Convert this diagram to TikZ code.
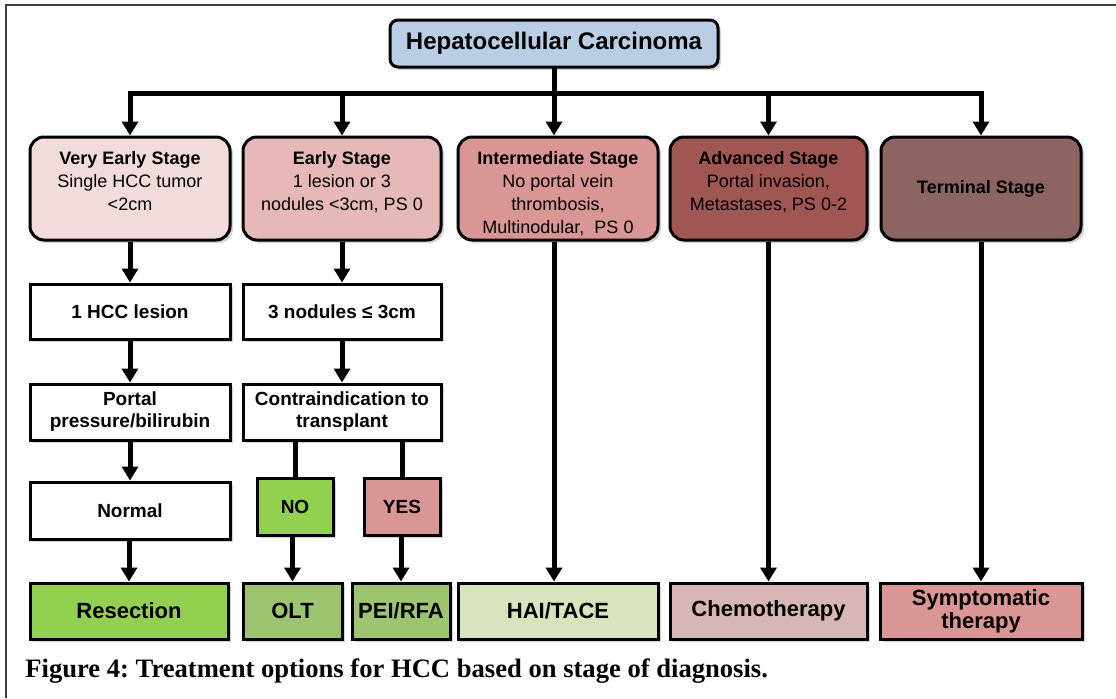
\documentclass[tikz,border=0pt]{standalone}
\usepackage{fontspec}
\setmainfont{Liberation Sans}
\newfontfamily\capfont{Liberation Serif}
\usetikzlibrary{arrows.meta}
\usetikzlibrary{shadows}
\definecolor{hccblue}{HTML}{B9CDE5}
\definecolor{stageA}{HTML}{F2DCDB}
\definecolor{stageB}{HTML}{E6B9B8}
\definecolor{stageC}{HTML}{D99694}
\definecolor{stageD}{HTML}{A05653}
\definecolor{stageE}{HTML}{8C6461}
\definecolor{okgreen}{HTML}{92D050}
\definecolor{midgreen}{HTML}{9DC56F}
\definecolor{palegreen}{HTML}{D7E4BD}
\definecolor{palerose}{HTML}{D8B6B5}
\frenchspacing

\begin{document}
\begin{tikzpicture}[x=0.5pt, y=-0.5pt]
            \tikzstyle{box shadow} = [drop shadow={shadow xshift=1.5pt, shadow yshift=-1.5pt, opacity=0.35}]
            \tikzstyle{stage box} = [draw, line width=1.5pt, rounded corners=7pt, inner sep=0pt, box shadow]
            \tikzstyle{step box} = [draw, line width=1.5pt, fill=white, inner sep=0pt, align=center, box shadow,
                font=\bfseries\fontsize{9.5}{11}\selectfont]
            \tikzstyle{therapy box} = [draw, line width=1.5pt, inner sep=0pt, align=center, box shadow,
                minimum height=28pt, font=\bfseries\fontsize{11}{11.5}\selectfont]
            \tikzstyle{stage text} = [anchor=north, inner sep=0pt, align=center, font=\fontsize{9}{11.5}\selectfont]
            \tikzstyle{flow line} = [line width=2.5pt, line cap=rect]
            \tikzstyle{flow arrow} = [line width=2.5pt, -{Triangle[width=8pt,length=7pt]}]
            \useasboundingbox (0,0) rectangle (1116,698);
            \draw[line width=1pt, black!75] (1116,5) -- (6,5) -- (6,698);
            \node[stage box, rounded corners=4pt, fill=hccblue, minimum width=164pt, minimum height=23.5pt,
                font=\bfseries\fontsize{12}{14}\selectfont] (hcc) at (554,43.5) {Hepatocellular Carcinoma};
            \node[stage box, fill=stageA, minimum width=100pt, minimum height=51.5pt] (very) at (130,188.5) {};
            \node[stage box, fill=stageB, minimum width=99pt, minimum height=51.5pt] (early) at (342,188.5) {};
            \node[stage box, fill=stageC, minimum width=100pt, minimum height=51.5pt] (inter) at (558,188.5) {};
            \node[stage box, fill=stageD, minimum width=98.5pt, minimum height=51.5pt] (adv) at (768.5,188.5) {};
            \node[stage box, fill=stageE, minimum width=100pt, minimum height=51.5pt] (term) at (981,188.5) {};
            \node[stage text] (very-t) at (130,151) {\textbf{Very Early Stage}\\Single HCC tumor\\<2cm};
            \node[stage text] (early-t) at (342,151) {\textbf{Early Stage}\\1 lesion or 3\\nodules <3cm, PS 0};
            \node[stage text] (inter-t) at (558,151) {\textbf{Intermediate Stage}\\No portal vein\\thrombosis,\\Multinodular,\ \ PS 0};
            \node[stage text] (adv-t) at (768.5,151) {\textbf{Advanced Stage}\\Portal invasion,\\Metastases, PS 0-2};
            \node[stage text, anchor=center] (term-t) at (term) {\textbf{Terminal Stage}};
            \node[step box, minimum width=100pt, minimum height=27.5pt] (lesion) at (130,311.5) {1 HCC lesion};
            \node[step box, minimum width=99pt, minimum height=27.5pt] (nodules) at (342,311.5) {3 nodules ≤ 3cm};
            \node[step box, minimum width=100pt, minimum height=28pt] (portal) at (130,412) {Portal\\pressure/bilirubin};
            \node[step box, minimum width=99pt, minimum height=28pt] (contra) at (342,412) {Contraindication to\\transplant};
            \node[step box, minimum width=100pt, minimum height=28.5pt] (normal) at (130,510.5) {Normal};
            \node[step box, fill=okgreen, minimum width=38pt, minimum height=28.5pt] (no) at (295,506.5) {NO};
            \node[step box, fill=stageC, minimum width=38pt, minimum height=28.5pt] (yes) at (402,506.5) {YES};
            \node[therapy box, fill=okgreen, minimum width=99pt] (resect) at (129,611) {Resection};
            \node[therapy box, fill=midgreen, minimum width=49.5pt] (olt) at (292.5,611) {OLT};
            \node[therapy box, fill=midgreen, minimum width=49pt] (pei) at (401,611) {PEI/RFA};
            \node[therapy box, fill=palegreen, minimum width=100pt] (hai) at (558,611) {HAI/TACE};
            \node[therapy box, fill=palerose, minimum width=98.5pt] (chemo) at (768.5,611) {Chemotherapy};
            \node[therapy box, fill=stageC, minimum width=101pt] (sympt) at (981,611) {Symptomatic\\therapy};
            \coordinate (bus) at (554,93);
            \coordinate (bus-left) at (130,93);
            \coordinate (bus-right) at (981,93);
            \draw[flow line] (hcc) -- (bus);
            \draw[flow line] (bus-left) -- (bus-right);
            \draw[flow arrow] (bus-left) -- (bus-left |- very.north);
            \draw[flow arrow] (bus -| early) -- (early.north);
            \draw[flow arrow] (bus) -- (bus |- inter.north);
            \draw[flow arrow] (bus -| adv) -- (adv.north);
            \draw[flow arrow] (bus-right) -- (bus-right |- term.north);
            \draw[flow arrow] (very) -- (lesion);
            \draw[flow arrow] (lesion) -- (portal);
            \draw[flow arrow] (portal) -- (normal);
            \draw[flow arrow] (normal.south -| resect) -- (resect.north);
            \draw[flow arrow] (early) -- (nodules);
            \draw[flow arrow] (nodules) -- (contra);
            \draw[flow line, line cap=butt] (contra.south -| no) -- (no.north);
            \draw[flow line, line cap=butt] (contra.south -| yes) -- (yes.north);
            \draw[flow arrow] (no.south -| olt) -- (olt.north);
            \draw[flow arrow] (yes.south -| pei) -- (pei.north);
            \draw[flow arrow] (bus |- inter.south) -- (bus |- hai.north);
            \draw[flow arrow] (adv) -- (chemo);
            \draw[flow arrow] (term) -- (sympt);
            \node[anchor=base west, inner sep=0pt, font=\capfont\bfseries\fontsize{13.3}{15}\selectfont] (caption) at (25,677)
                {Figure 4: Treatment options for HCC based on stage of diagnosis.};
        \end{tikzpicture}
\end{document}
